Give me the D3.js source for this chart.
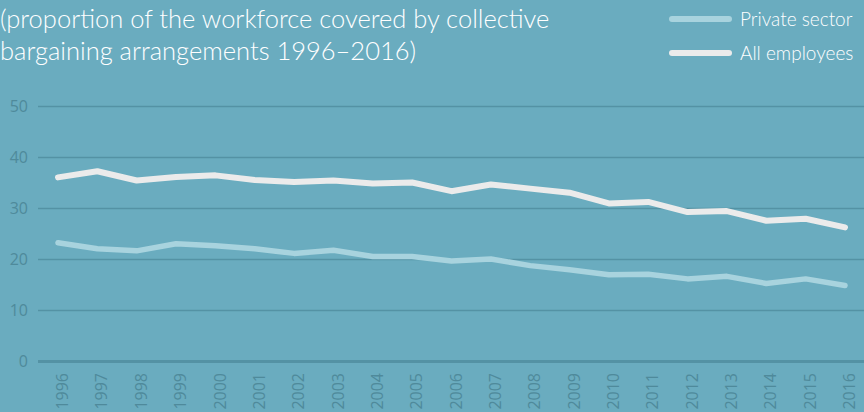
<!DOCTYPE html>
<html>
<head>
<meta charset="utf-8">
<script src="https://cdn.jsdelivr.net/npm/d3@7"></script>
<style>
  body { margin: 0; background: #6aacbf; }
  svg { display: block; }
</style>
</head>
<body>
<div id="chart"></div>
<script>
"use strict";

const width = 864,
      height = 412;

const years = d3.range(1996, 2017);
const allEmployees = [36.0, 37.2, 35.4, 36.1, 36.4, 35.5, 35.1, 35.4, 34.8, 35.0, 33.3,
                      34.6, 33.8, 33.0, 30.9, 31.2, 29.2, 29.4, 27.5, 27.9, 26.2];
const privateSector = [23.2, 22.0, 21.6, 23.0, 22.6, 22.0, 21.1, 21.7, 20.5, 20.5, 19.6,
                       20.0, 18.7, 17.9, 16.9, 17.0, 16.1, 16.6, 15.2, 16.1, 14.8];
const yTicks = [0, 10, 20, 30, 40, 50];
const titleLines = ["(proportion of the workforce covered by collective",
                    "bargaining arrangements 1996\u20132016)"];
const legendItems = [
  { label: "Private sector", color: "#a8d3de" },
  { label: "All employees", color: "#ebebeb" }
];

const x = d3.scalePoint()
  .domain(years)
  .range([58, 845]);

const y = d3.scaleLinear()
  .domain([0, 50])
  .range([361, 106]);

const svg = d3.select("#chart")
  .append("svg")
  .attr("width", width)
  .attr("height", height);

svg.append("rect")
  .attr("width", width)
  .attr("height", height)
  .attr("fill", "#6aacbf");

// title
svg.selectAll("text.title")
  .data(titleLines)
  .join("text")
    .attr("class", "title")
    .attr("x", 0)
    .attr("y", (d, i) => 28 + i * 32)
    .attr("fill", "#ffffff")
    .style("font-family", "Lato, sans-serif")
    .style("font-weight", 300)
    .style("font-size", "25.5px")
    .text(d => d);

// legend
const legend = svg.selectAll("g.legend")
  .data(legendItems)
  .join("g")
    .attr("class", "legend")
    .attr("transform", (d, i) => `translate(0, ${19 + i * 34})`);

legend.append("line")
  .attr("x1", 672)
  .attr("x2", 729)
  .attr("stroke", d => d.color)
  .attr("stroke-width", 6)
  .attr("stroke-linecap", "round");

legend.append("text")
  .attr("x", 740)
  .attr("y", 7)
  .attr("fill", "#ffffff")
  .style("font-family", "Lato, sans-serif")
  .style("font-weight", 300)
  .style("font-size", "19px")
  .text(d => d.label);

// gridlines + y labels
const yAxis = d3.axisLeft(y)
  .tickValues(yTicks)
  .tickSize(-(width - 38))
  .tickPadding(10);

const yG = svg.append("g")
  .attr("transform", "translate(38,0)")
  .call(yAxis);

yG.select(".domain").remove();
yG.selectAll(".tick line")
  .attr("stroke", "#5492a4")
  .attr("stroke-width", d => d === 0 ? 3 : 1.5);
yG.selectAll(".tick text")
  .attr("fill", "#4f8a9b")
  .style("font-family", "'Open Sans', sans-serif")
  .style("font-size", "16px");

// x labels
const xAxis = d3.axisBottom(x).tickSize(0);
const xG = svg.append("g")
  .attr("transform", "translate(0,361)")
  .call(xAxis);

xG.select(".domain").remove();
xG.selectAll(".tick text")
  .attr("transform", "rotate(-90)")
  .attr("x", -12)
  .attr("y", 0)
  .attr("dy", "0.6em")
  .attr("text-anchor", "end")
  .attr("fill", "#4f8a9b")
  .style("font-family", "'Open Sans', sans-serif")
  .style("font-size", "16px");

// lines
const line = d3.line()
  .x((d, i) => x(years[i]))
  .y(d => y(d));

svg.append("path")
  .datum(privateSector)
  .attr("d", line)
  .attr("fill", "none")
  .attr("stroke", "#a8d3de")
  .attr("stroke-width", 5.5)
  .attr("stroke-linejoin", "round")
  .attr("stroke-linecap", "round");

svg.append("path")
  .datum(allEmployees)
  .attr("d", line)
  .attr("fill", "none")
  .attr("stroke", "#ebebeb")
  .attr("stroke-width", 6)
  .attr("stroke-linejoin", "round")
  .attr("stroke-linecap", "round");
</script>
</body>
</html>
